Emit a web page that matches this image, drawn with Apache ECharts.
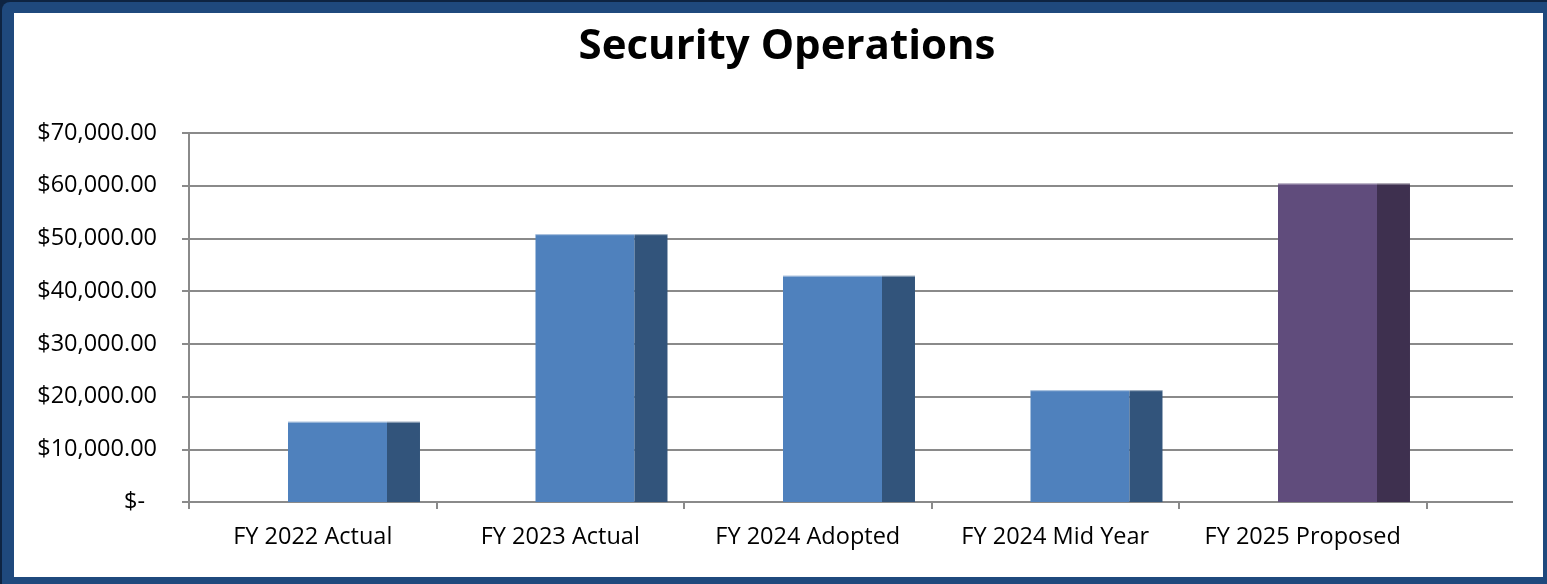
<!DOCTYPE html>
<html>
<head>
<meta charset="utf-8">
<script src="https://cdn.jsdelivr.net/npm/echarts@6/dist/echarts.min.js"></script>
<style>
html,body{margin:0;padding:0;width:1547px;height:584px;overflow:hidden;background:#0e2442;}
#outer{position:absolute;left:2px;top:2px;width:1545px;height:582px;background:#1f497d;border-radius:8px 0 0 0;}
#inner{position:absolute;left:14px;top:13px;width:1529px;height:564px;background:#ffffff;}
#chart{position:absolute;left:0;top:0;width:1547px;height:584px;}
</style>
</head>
<body>
<div id="outer"></div>
<div id="inner"></div>
<div id="chart"></div>
<script>
const titleText = 'Security Operations';
const categories = ['FY 2022 Actual', 'FY 2023 Actual', 'FY 2024 Adopted', 'FY 2024 Mid Year', 'FY 2025 Proposed'];
const values = [15200, 50800, 42900, 21200, 60400];
const frontColors = ['#4f81bd', '#4f81bd', '#4f81bd', '#4f81bd', '#604c7c'];
const sideColors = ['#32547b', '#32547b', '#32547b', '#32547b', '#3e304f'];
const yTicks = [0, 10000, 20000, 30000, 40000, 50000, 60000, 70000];

function fmtMoney(v) {
  if (v === 0) return '{z|$-}';
  return '$' + v.toLocaleString('en-US', {minimumFractionDigits: 2, maximumFractionDigits: 2});
}

const chart = echarts.init(document.getElementById('chart'), null, {renderer: 'canvas'});
const FONT = 'Open Sans';
const gridTop = 133, gridBottom = 82, gridLeft = 189;

chart.setOption({
  backgroundColor: 'transparent',
  animation: false,
  title: {
    text: titleText,
    left: 782, top: 21, textAlign: 'center',
    textStyle: {fontFamily: FONT, fontWeight: 'bold', fontSize: 42, color: '#000'}
  },
  grid: [
    {left: gridLeft, right: 34, top: gridTop, bottom: gridBottom, containLabel: false},
    {left: gridLeft, width: 1237.5, top: gridTop, bottom: gridBottom, containLabel: false}
  ],
  xAxis: [
    {type: 'value', gridIndex: 0, show: false, min: 0, max: 1},
    {
      type: 'category', gridIndex: 1, data: categories, boundaryGap: true,
      axisLine: {show: false},
      axisTick: {show: true, length: 7, lineStyle: {color: '#8a8a8a', width: 2}},
      axisLabel: {fontFamily: FONT, fontSize: 23.5, color: '#000', margin: 23, interval: 0}
    }
  ],
  yAxis: [
    {
      type: 'value', gridIndex: 0, min: yTicks[0], max: yTicks[yTicks.length - 1], interval: yTicks[1] - yTicks[0],
      axisLine: {show: true, lineStyle: {color: '#8a8a8a', width: 2}},
      axisTick: {show: true, length: 7, lineStyle: {color: '#8a8a8a', width: 2}},
      splitLine: {show: true, lineStyle: {color: '#8a8a8a', width: 2}},
      axisLabel: {
        fontFamily: FONT, fontSize: 23.5, color: '#000', margin: 32,
        formatter: fmtMoney,
        rich: {z: {fontFamily: FONT, fontSize: 23.5, color: '#000', padding: [0, 12, 0, 0]}}
      }
    },
    {type: 'value', gridIndex: 1, show: false, min: yTicks[0], max: yTicks[yTicks.length - 1]}
  ],
  series: [{
    type: 'custom',
    xAxisIndex: 1, yAxisIndex: 1,
    data: values.map((v, i) => [i, v]),
    renderItem: function (params, api) {
      const idx = api.value(0);
      const val = api.value(1);
      const base = api.coord([idx, 0]);
      const top = api.coord([idx, val]);
      const bw = api.size([1, 0])[0];
      const start = base[0] - bw / 2;
      const fx = start + bw * 0.4;
      const fw = bw * 0.4;
      const sw = bw * 0.1333;
      const h = base[1] - top[1];
      return {
        type: 'group',
        children: [
          {type: 'rect', shape: {x: fx, y: top[1], width: fw, height: h}, style: {fill: frontColors[idx]}},
          {type: 'rect', shape: {x: fx + fw, y: top[1], width: sw, height: h}, style: {fill: sideColors[idx]}},
          {type: 'line', shape: {x1: fx, y1: top[1] + 0.5, x2: fx + fw + sw, y2: top[1] + 0.5}, style: {stroke: 'rgba(255,255,255,0.45)', lineWidth: 1}}
        ]
      };
    }
  }]
});
</script>
</body>
</html>
